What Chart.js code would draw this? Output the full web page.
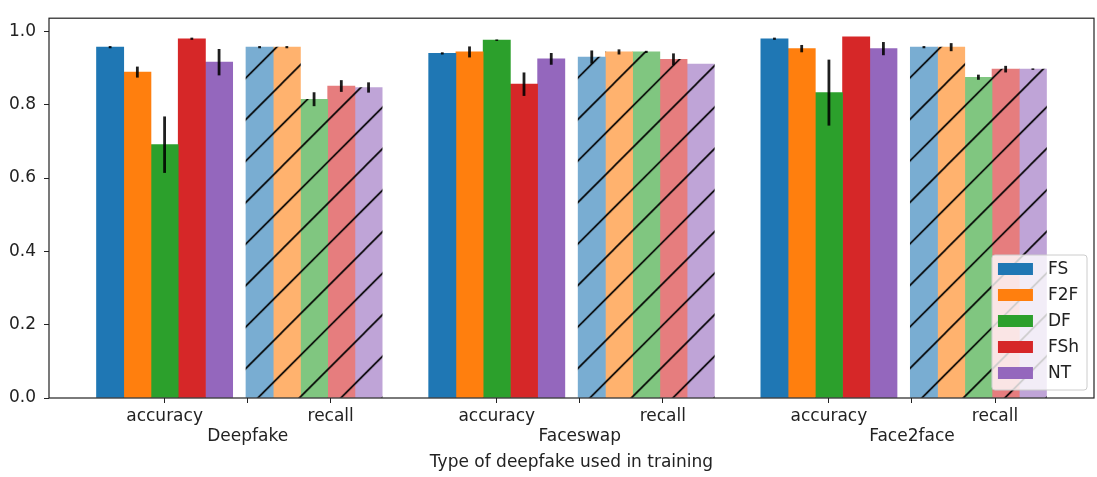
<!DOCTYPE html>
<html>
<head>
<meta charset="utf-8">
<script src="https://cdn.jsdelivr.net/npm/chart.js@4.4.1/dist/chart.umd.min.js"></script>
<style>
  html, body { margin: 0; padding: 0; background: #fff; }
</style>
</head>
<body>
<canvas id="chart" width="1097" height="477"></canvas>
<script>
// Groups on the x axis, two metrics per group, five training sets per metric
const groups = ['Deepfake', 'Faceswap', 'Face2face'];
const metrics = ['accuracy', 'recall'];
const models = ['FS', 'F2F', 'DF', 'FSh', 'NT'];
const colors = ['#1f77b4', '#ff7f0e', '#2ca02c', '#d62728', '#9467bd'];

// values per model: FS, F2F, DF, FSh, NT
const deepfakeAccuracy = [0.957, 0.889, 0.691, 0.980, 0.916];
const deepfakeRecall = [0.957, 0.957, 0.815, 0.851, 0.847];
const faceswapAccuracy = [0.940, 0.944, 0.976, 0.856, 0.925];
const faceswapRecall = [0.930, 0.944, 0.944, 0.924, 0.911];
const face2faceAccuracy = [0.980, 0.953, 0.833, 0.985, 0.953];
const face2faceRecall = [0.957, 0.957, 0.875, 0.897, 0.897];

// error bar half lengths, same order
const deepfakeAccuracyErr = [0.003, 0.015, 0.077, 0.003, 0.036];
const deepfakeRecallErr = [0.003, 0.003, 0.019, 0.016, 0.014];
const faceswapAccuracyErr = [0.003, 0.015, 0.002, 0.032, 0.016];
const faceswapRecallErr = [0.018, 0.007, 0.003, 0.016, 0];
const face2faceAccuracyErr = [0.003, 0.010, 0.090, 0, 0.018];
const face2faceRecallErr = [0.003, 0.011, 0.007, 0.009, 0.002];

const values = [
  [deepfakeAccuracy, deepfakeRecall],
  [faceswapAccuracy, faceswapRecall],
  [face2faceAccuracy, face2faceRecall],
];
const errors = [
  [deepfakeAccuracyErr, deepfakeRecallErr],
  [faceswapAccuracyErr, faceswapRecallErr],
  [face2faceAccuracyErr, face2faceRecallErr],
];

const barWidth = 0.082;
const recallShift = 0.45;
const FONT = 'DejaVu Sans';
const TEXT = '#222';

function lighten(hex, a) {
  const n = parseInt(hex.slice(1), 16);
  const mix = c => Math.round(c * a + 255 * (1 - a));
  return `rgb(${mix(n >> 16)}, ${mix((n >> 8) & 255)}, ${mix(n & 255)})`;
}

// '/' hatch on the light colour; tile is two periods wide so spacing can be 41.5px
function hatch(color) {
  const size = 83;
  const step = size / 2;
  const tile = document.createElement('canvas');
  tile.width = size; tile.height = size;
  const c = tile.getContext('2d');
  c.fillStyle = lighten(color, 0.6);
  c.fillRect(0, 0, size, size);
  c.strokeStyle = '#000';
  c.lineWidth = 1.6;
  c.beginPath();
  // every line x + y = k * step that touches the tile
  for (let k = -1; k <= 5; k++) {
    const s = k * step;
    c.moveTo(s - size - 2, size + 2);
    c.lineTo(s + 2, -2);
  }
  c.stroke();
  const pattern = c.createPattern(tile, 'repeat');
  pattern.setTransform(new DOMMatrix().translate(33.3, 0));
  return pattern;
}

const datasets = models.map((name, i) => {
  const points = [];
  const errs = [];
  groups.forEach((g, gi) => {
    metrics.forEach((m, mi) => {
      points.push({ x: gi + mi * recallShift + (i - 2) * barWidth, y: values[gi][mi][i] });
      errs.push(errors[gi][mi][i]);
    });
  });
  const hatched = hatch(colors[i]);
  return {
    label: name,
    data: points,
    errors: errs,
    backgroundColor: ctx => (ctx.dataIndex % 2 ? hatched : colors[i]),
    borderWidth: 0,
    grouped: false,
    categoryPercentage: 1,
    barPercentage: 1,
  };
});

const xTicks = [];
groups.forEach((g, gi) => xTicks.push(gi, gi + 0.25, gi + 0.5));
const yTicks = [0, 0.2, 0.4, 0.6, 0.8, 1.0];

function xLabel(index) {
  const gi = Math.floor(index / 3);
  const k = index % 3;
  if (k === 0) return metrics[0];
  if (k === 2) return metrics[1];
  return ['', groups[gi]];
}

// error bars + axes frame
const errorBars = {
  id: 'errorBars',
  afterDatasetsDraw(chart) {
    const { ctx, chartArea: a } = chart;
    const y = chart.scales.y;
    ctx.save();
    ctx.strokeStyle = 'rgba(0,0,0,0.88)';
    ctx.lineWidth = 2.8;
    chart.data.datasets.forEach((ds, di) => {
      chart.getDatasetMeta(di).data.forEach((bar, j) => {
        const e = ds.errors[j];
        if (!e) return;
        const v = ds.data[j].y;
        ctx.beginPath();
        ctx.moveTo(bar.x, y.getPixelForValue(v - e));
        ctx.lineTo(bar.x, y.getPixelForValue(v + e));
        ctx.stroke();
      });
    });
    ctx.strokeStyle = '#222';
    ctx.lineWidth = 1.2;
    ctx.strokeRect(a.left, a.top, a.right - a.left, a.bottom - a.top);
    ctx.restore();
  },
};

// matplotlib-like legend in the lower right corner
const boxLegend = {
  id: 'boxLegend',
  afterDraw(chart) {
    const { ctx, chartArea: a } = chart;
    ctx.save();
    ctx.font = `17px "${FONT}"`;
    const textW = Math.max(...models.map(m => ctx.measureText(m).width));
    const rowH = 26;
    const w = 56 + textW + 8;
    const h = models.length * rowH + 5;
    const right = a.right - 7;
    const bottom = a.bottom - 8;
    const left = right - w;
    const top = bottom - h;
    ctx.beginPath();
    ctx.roundRect(left, top, w, h, 3);
    ctx.fillStyle = 'rgba(255,255,255,0.8)';
    ctx.fill();
    ctx.strokeStyle = '#ccc';
    ctx.lineWidth = 1;
    ctx.stroke();
    models.forEach((m, i) => {
      const cy = top + 14 + i * rowH;
      ctx.fillStyle = colors[i];
      ctx.fillRect(left + 6, cy - 6, 35, 12);
      ctx.fillStyle = TEXT;
      ctx.textBaseline = 'middle';
      ctx.fillText(m, left + 56, cy + 1);
    });
    ctx.restore();
  },
};

new Chart(document.getElementById('chart'), {
  type: 'bar',
  data: { datasets },
  plugins: [errorBars, boxLegend],
  options: {
    responsive: false,
    animation: false,
    devicePixelRatio: 1,
    layout: { padding: { top: 7, right: 3, left: 0, bottom: 0 } },
    plugins: {
      legend: { display: false },
      tooltip: { enabled: false },
    },
    scales: {
      x: {
        type: 'linear',
        offset: false,
        min: -0.348,
        max: 2.798,
        afterBuildTicks: s => { s.ticks = xTicks.map(v => ({ value: v })); },
        afterFit: s => { s.height = 79; },
        ticks: {
          autoSkip: false,
          maxRotation: 0,
          padding: 3,
          color: TEXT,
          font: { family: FONT, size: 17 },
          callback: (v, i) => xLabel(i),
        },
        grid: { drawOnChartArea: false, tickLength: 5, color: TEXT, offset: false },
        border: { display: false },
        title: {
          display: true,
          text: 'Type of deepfake used in training',
          color: TEXT,
          font: { family: FONT, size: 17 },
          padding: { top: 4, bottom: 4 },
        },
      },
      y: {
        min: 0,
        max: 1.036,
        afterBuildTicks: s => { s.ticks = yTicks.map(v => ({ value: v })); },
        afterFit: s => { s.width = 49; },
        ticks: {
          padding: 8,
          color: TEXT,
          font: { family: FONT, size: 17 },
          callback: v => v.toFixed(1),
        },
        grid: { drawOnChartArea: false, tickLength: 5, color: TEXT },
        border: { display: false },
      },
    },
  },
});
</script>
</body>
</html>
